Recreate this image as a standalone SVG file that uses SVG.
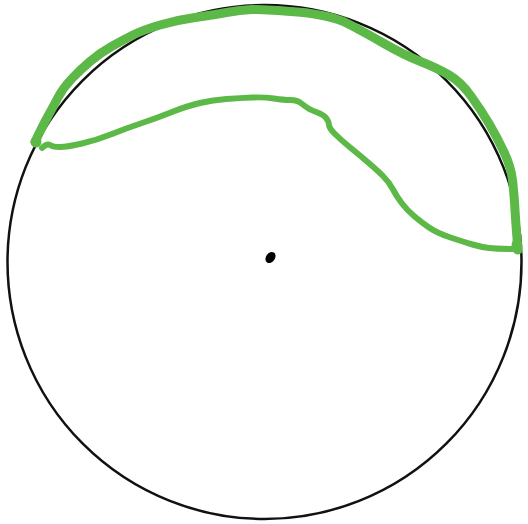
<svg xmlns="http://www.w3.org/2000/svg" width="528" height="524" viewBox="0 0 528 524">
<style>
.g{fill:none;stroke:#5db947;stroke-linecap:round;stroke-linejoin:round}
</style>
<rect width="528" height="524" fill="#fff"/>
<g id="circle"><circle cx="264.5" cy="262" r="257" fill="none" stroke="#111" stroke-width="2.5"/></g>
<g id="center"><ellipse cx="270.5" cy="257.5" rx="4.5" ry="6" transform="rotate(35 270.5 257.5)" fill="#000"/></g>
<g id="region">
<path class="g" stroke-width="9" d="M35,142 Q42,127 47.5,117 Q53,107 58,97.5 Q63,88 71.5,79 Q80,70 90,61.5 Q100,53 111.5,46.5 Q123,40 133,35 Q143,30 160,25 Q177,20 195,17.5 Q213,15 226.5,12.5 Q240,10 252,9.5 Q264,9 297.5,12 Q331,15 347.5,23.5 Q364,32 384,43.5 Q404,55 420.5,61.5 Q437,68 449,75 Q461,82 471,96 Q481,110 489,123.5 Q497,137 504,152 Q511,167 512.5,180 Q514,193 515,210 Q516,227 518,250"/>
<path class="g" stroke-width="6" d="M518,249 Q497,249 489,248 Q481,247 472.5,244.5 Q464,242 450.5,237.5 Q437,233 429,227.5 Q421,222 414,216 Q407,210 402,203.5 Q397,197 393,189.5 Q389,182 383,176 Q377,170 367,161.5 Q357,153 349,146.5 Q341,140 335,134 Q329,128 329,125 Q329,122 326.5,118.5 Q324,115 317.5,112.5 Q311,110 308.5,108.5 Q306,107 301.5,103.5 Q297,100 290.5,100 Q284,100 274,98.5 Q264,97 252,97.5 Q240,98 226.5,99 Q213,100 200,103 Q187,106 172,112 Q157,118 142,123 Q127,128 112,134 Q97,140 82,143.5 Q67,147 60,147 Q53,147 50,145 Q47,143 42,148"/>
<ellipse cx="517" cy="246" rx="5.5" ry="8" fill="#5db947"/>
<circle cx="36" cy="142" r="5.5" fill="#5db947"/>
</g>
</svg>
